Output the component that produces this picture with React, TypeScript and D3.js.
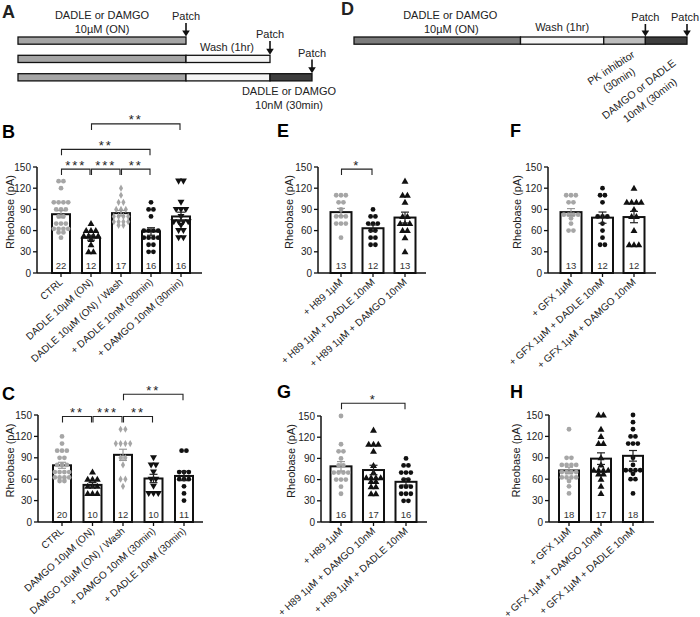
import React from 'react';
import * as d3 from 'd3';

const FONT = '"Liberation Sans", Arial, Helvetica, sans-serif';
const GRAY = '#a6a6a6';
const BLACK = '#111';

// ---------- Data ----------
const catsB = ['CTRL', 'DADLE 10µM (ON)', 'DADLE 10µM (ON) / Wash', '+ DADLE 10nM (30min)', '+ DAMGO 10nM (30min)'];
const valsB = [
  [130, 130, 120, 100, 100, 100, 100, 90, 90, 90, 80, 80, 70, 70, 70, 60, 60, 60, 60, 60, 60, 50],
  [70, 60, 60, 60, 50, 50, 50, 50, 50, 40, 30, 30],
  [120, 110, 100, 100, 90, 90, 90, 80, 80, 80, 80, 70, 70, 70, 70, 70, 70],
  [100, 90, 90, 80, 60, 60, 60, 60, 50, 50, 50, 50, 40, 40, 30, 30],
  [130, 130, 100, 90, 90, 90, 80, 70, 70, 70, 70, 70, 60, 60, 50, 50],
];
const sigB: [number, number, number, string][] = [
  [0, 1, 147, '***'], [1, 2, 147, '***'], [2, 3, 147, '**'], [0, 3, 175, '**'], [1, 4, 211, '**'],
];

const catsC = ['CTRL', 'DAMGO 10µM (ON)', 'DAMGO 10µM (ON) / Wash', '+ DAMGO 10nM (30min)', '+ DADLE 10nM (30min)'];
const valsC = [
  [120, 110, 100, 100, 100, 90, 90, 80, 80, 80, 70, 70, 70, 70, 60, 60, 60, 60, 60, 60],
  [70, 60, 60, 60, 50, 50, 50, 40, 40, 40],
  [130, 130, 110, 110, 110, 110, 90, 90, 80, 60, 60, 50],
  [90, 80, 80, 70, 60, 60, 50, 40, 40, 40],
  [100, 100, 70, 70, 70, 60, 60, 60, 50, 40, 30],
];
const sigC: [number, number, number, string][] = [
  [0, 1, 148, '**'], [1, 2, 148, '***'], [2, 3, 148, '**'], [2, 4, 179, '**'],
];

const catsE = ['+ H89 1µM', '+ H89 1µM + DADLE 10nM', '+ H89 1µM + DAMGO 10nM'];
const valsE = [
  [110, 110, 110, 100, 100, 90, 80, 80, 80, 70, 70, 70, 50],
  [90, 80, 80, 70, 70, 70, 60, 60, 50, 50, 40, 40],
  [130, 110, 110, 100, 80, 80, 70, 70, 70, 60, 60, 50, 30],
];
const sigE: [number, number, number, string][] = [[0, 1, 147, '*']];

const catsF = ['+ GFX 1µM', '+ GFX 1µM + DADLE 10nM', '+ GFX 1µM + DAMGO 10nM'];
const valsF = [
  [110, 110, 110, 100, 100, 80, 80, 80, 80, 80, 70, 60, 60],
  [120, 110, 110, 100, 80, 80, 80, 70, 60, 50, 40, 40],
  [120, 100, 100, 100, 100, 90, 80, 80, 60, 40, 40, 40],
];

const catsG = ['+ H89 1µM', '+ H89 1µM + DAMGO 10nM', '+ H89 1µM + DADLE 10nM'];
const valsG = [
  [150, 110, 100, 100, 90, 80, 80, 70, 70, 70, 70, 60, 60, 60, 50, 40],
  [130, 110, 110, 110, 100, 80, 70, 60, 60, 60, 60, 60, 60, 50, 50, 40, 40],
  [90, 80, 80, 70, 70, 70, 60, 60, 50, 50, 50, 40, 40, 40, 30, 30],
];
const sigG: [number, number, number, string][] = [[0, 2, 168, '*']];

const catsH = ['+ GFX 1µM', '+ GFX 1µM + DAMGO 10nM', '+ GFX 1µM + DADLE 10nM'];
const valsH = [
  [130, 90, 90, 80, 80, 80, 80, 70, 70, 70, 70, 60, 60, 60, 60, 60, 50, 40],
  [150, 150, 130, 120, 110, 110, 90, 80, 70, 70, 70, 70, 70, 70, 60, 50, 40],
  [150, 140, 130, 120, 120, 110, 110, 110, 90, 80, 70, 70, 70, 70, 70, 60, 60, 40],
];

const yTicks = [0, 30, 60, 90, 120, 150];

// timelines (time units)
const tlA_rows = [
  [{ s: 0, e: 12, k: 'drug' }],
  [{ s: 0, e: 12, k: 'drug' }, { s: 12, e: 18, k: 'wash' }],
  [{ s: 0, e: 12, k: 'drug' }, { s: 12, e: 18, k: 'wash' }, { s: 18, e: 21, k: 'low' }],
];
const tlD = [
  { s: 0, e: 12, k: 'drugD' }, { s: 12, e: 18, k: 'wash' }, { s: 18, e: 21, k: 'pk' }, { s: 21, e: 24, k: 'low' },
];

type Marker = 'circle' | 'tri' | 'tridown' | 'diamond';

const segFill: Record<string, string> = {
  drug: '#a5a5a5', drugD: '#7c7c7c', wash: '#f4f4f4', low: '#3e3e3e', pk: '#bdbdbd',
};

// ---------- Components ----------
function MarkerShape({ m, x, y, c }: { m: Marker; x: number; y: number; c: string }) {
  if (m === 'circle') return <circle cx={x} cy={y} r={2.4} fill={c} />;
  if (m === 'diamond') {
    const p = d3.symbol().type(d3.symbolDiamond).size(15)();
    return <path d={p || ''} transform={`translate(${x},${y})`} fill={c} />;
  }
  const p = d3.symbol().type(d3.symbolTriangle).size(21)();
  return <path d={p || ''} transform={`translate(${x},${y + (m === 'tri' ? 0.5 : -0.5)}) rotate(${m === 'tridown' ? 180 : 0})`} fill={c} />;
}

function layoutPoints(values: number[], cx: number, y: (v: number) => number) {
  const groups = d3.group(values, (v) => v);
  const pts: { x: number; y: number }[] = [];
  for (const [v, arr] of groups) {
    const k = arr.length;
    const perRow = 4;
    const rows = Math.ceil(k / perRow);
    for (let r = 0; r < rows; r++) {
      const m = Math.min(perRow, k - r * perRow);
      for (let j = 0; j < m; j++) {
        pts.push({ x: cx + (j - (m - 1) / 2) * 4.8, y: y(v) + (r - (rows - 1) / 2) * 3.6 });
      }
    }
  }
  return pts;
}

interface PanelCfg {
  letter: string; lx: number; ly: number;
  cats: string[]; vals: number[][]; markers: Marker[]; colors: string[];
  ax: number; x0: number; step: number; axEnd: number; yTop: number; yBot: number; barW: number;
  ylabX: number; angle: number; brackets: [number, number, number, string][];
}

function Panel(p: PanelCfg) {
  const y = d3.scaleLinear().domain([0, 150]).range([p.yBot, p.yTop]);
  const x = d3.scalePoint<string>().domain(p.cats).range([p.x0, p.x0 + p.step * (p.cats.length - 1)]);
  return (
    <g>
      <text x={p.lx} y={p.ly} fontSize={18} fontWeight="bold" fontFamily={FONT}>{p.letter}</text>
      {p.cats.map((c, i) => {
        const m = d3.mean(p.vals[i]) as number;
        const cx = x(c) as number;
        return <rect key={'b' + i} x={cx - p.barW / 2} y={y(m)} width={p.barW} height={p.yBot - y(m)} fill="#fff" stroke={BLACK} strokeWidth={2} />;
      })}
      {p.cats.map((c, i) => (
        <text key={'n' + i} x={x(c) as number} y={p.yBot - 4} fontSize={9.5} textAnchor="middle" fontFamily={FONT} fill="#333">{p.vals[i].length}</text>
      ))}
      {p.cats.map((c, i) => layoutPoints(p.vals[i], x(c) as number, y).map((pt, j) => (
        <MarkerShape key={`p${i}-${j}`} m={p.markers[i]} x={pt.x} y={pt.y} c={p.colors[i]} />
      )))}
      {p.cats.map((c, i) => {
        const v = p.vals[i];
        const m = d3.mean(v) as number;
        const sem = (d3.deviation(v) as number) / Math.sqrt(v.length);
        const cx = x(c) as number;
        const col = p.colors[i] === GRAY ? '#9a9a9a' : '#222';
        return (
          <g key={'e' + i} stroke={col} strokeWidth={1.2}>
            <line x1={cx} x2={cx} y1={y(m - sem)} y2={y(m + sem)} />
            <line x1={cx - 4} x2={cx + 4} y1={y(m + sem)} y2={y(m + sem)} />
            <line x1={cx - 4} x2={cx + 4} y1={y(m - sem)} y2={y(m - sem)} />
          </g>
        );
      })}
      <line x1={p.ax} x2={p.ax} y1={p.yBot} y2={p.yTop} stroke={BLACK} strokeWidth={1.5} />
      <line x1={p.ax} x2={p.axEnd} y1={p.yBot} y2={p.yBot} stroke={BLACK} strokeWidth={1.5} />
      {yTicks.map((t) => (
        <g key={'t' + t}>
          <line x1={p.ax - 4} x2={p.ax} y1={y(t)} y2={y(t)} stroke={BLACK} strokeWidth={1.3} />
          <text x={p.ax - 6} y={y(t) + 3.5} fontSize={10} textAnchor="end" fontFamily={FONT} fill="#222">{t}</text>
        </g>
      ))}
      {p.cats.map((c, i) => {
        const cx = x(c) as number;
        return (
          <g key={'x' + i}>
            <line x1={cx} x2={cx} y1={p.yBot} y2={p.yBot + 4} stroke={BLACK} strokeWidth={1.3} />
            <text transform={`translate(${cx + 2.5},${p.yBot + 10}) rotate(${-p.angle})`} fontSize={10} textAnchor="end" fontFamily={FONT} fill="#222">{c}</text>
          </g>
        );
      })}
      <text transform={`translate(${p.ylabX},${(p.yTop + p.yBot) / 2 - 8}) rotate(-90)`} fontSize={11} textAnchor="middle" fontFamily={FONT} fill="#222">Rheobase (pA)</text>
      {p.brackets.map(([a, b, lv, lab], i) => {
        const xa = (x(p.cats[a]) as number) + 0.5;
        const xb = (x(p.cats[b]) as number) - 1;
        const ly = y(lv);
        return (
          <g key={'s' + i}>
            <path d={`M${xa},${ly + 6}V${ly}H${xb}V${ly + 6}`} fill="none" stroke="#222" strokeWidth={1.1} />
            <text x={(xa + xb) / 2} y={ly + 0.5} fontSize={13} letterSpacing={2} textAnchor="middle" fontFamily={FONT} fill="#222">{lab}</text>
          </g>
        );
      })}
    </g>
  );
}

function Arrow({ x, y1, y2 }: { x: number; y1: number; y2: number }) {
  return (
    <g>
      <line x1={x} x2={x} y1={y1} y2={y2 - 5} stroke="#111" strokeWidth={1.6} />
      <path d={`M${x - 3.8},${y2 - 6}L${x + 3.8},${y2 - 6}L${x},${y2}Z`} fill="#111" />
    </g>
  );
}

function TimelineA() {
  const t = d3.scaleLinear().domain([0, 21]).range([18, 312]);
  const rowY = [37, 55.3, 73.7];
  const h = 7.2;
  return (
    <g fontFamily={FONT} fill="#222">
      <text x={2} y={18} fontSize={18} fontWeight="bold">A</text>
      {tlA_rows.map((row, r) => row.map((s, j) => (
        <rect key={`${r}-${j}`} x={t(s.s)} y={rowY[r]} width={t(s.e) - t(s.s)} height={h} fill={segFill[s.k]} stroke="#111" strokeWidth={1.3} />
      )))}
      <text x={t(6)} y={19} fontSize={11} textAnchor="middle">DADLE or DAMGO</text>
      <text x={t(6)} y={33} fontSize={11} textAnchor="middle">10µM (ON)</text>
      <text x={t(12)} y={20} fontSize={11} textAnchor="middle">Patch</text>
      <Arrow x={t(12)} y1={23} y2={rowY[0] - 0.5} />
      <text x={t(15) - 1} y={51} fontSize={11} textAnchor="middle">Wash (1hr)</text>
      <text x={t(18)} y={38} fontSize={11} textAnchor="middle">Patch</text>
      <Arrow x={t(18)} y1={41} y2={rowY[1] - 0.5} />
      <text x={t(21)} y={56.5} fontSize={11} textAnchor="middle">Patch</text>
      <Arrow x={t(21)} y1={59.5} y2={rowY[2] - 0.5} />
      <text x={t(19.5) - 2} y={95} fontSize={11} textAnchor="middle">DADLE or DAMGO</text>
      <text x={t(19.5) - 2} y={109} fontSize={11} textAnchor="middle">10nM (30min)</text>
    </g>
  );
}

function TimelineD() {
  const t = d3.scaleLinear().domain([0, 24]).range([354, 687]);
  const y0 = 37;
  const h = 7.2;
  return (
    <g fontFamily={FONT} fill="#222">
      <text x={341} y={15} fontSize={18} fontWeight="bold">D</text>
      {tlD.map((s, j) => (
        <rect key={j} x={t(s.s)} y={y0} width={t(s.e) - t(s.s)} height={h} fill={segFill[s.k]} stroke="#111" strokeWidth={1.3} />
      ))}
      <text x={t(6) + 13} y={19} fontSize={11} textAnchor="middle">DADLE or DAMGO</text>
      <text x={t(6) + 14} y={33} fontSize={11} textAnchor="middle">10µM (ON)</text>
      <text x={t(15)} y={31} fontSize={11} textAnchor="middle">Wash (1hr)</text>
      <text x={t(21)} y={21} fontSize={11} textAnchor="middle">Patch</text>
      <Arrow x={t(21)} y1={24} y2={y0 - 0.5} />
      <text x={t(24) - 2} y={21} fontSize={11} textAnchor="middle">Patch</text>
      <Arrow x={t(24)} y1={24} y2={y0 - 0.5} />
      <text transform={`translate(${613},${71}) rotate(-33)`} fontSize={10.5} textAnchor="middle">PK inhibitor</text>
      <text transform={`translate(${621},${83}) rotate(-33)`} fontSize={10.5} textAnchor="middle">(30min)</text>
      <text transform={`translate(${641},${92}) rotate(-38)`} fontSize={10.5} textAnchor="middle">DAMGO or DADLE</text>
      <text transform={`translate(${652},${103}) rotate(-38)`} fontSize={10.5} textAnchor="middle">10nM (30min)</text>
    </g>
  );
}

export default function App() {
  const panels: PanelCfg[] = [
    {
      letter: 'B', lx: 2, ly: 138, cats: catsB, vals: valsB,
      markers: ['circle', 'tri', 'diamond', 'circle', 'tridown'], colors: [GRAY, BLACK, GRAY, BLACK, BLACK],
      ax: 37, x0: 61, step: 30, axEnd: 202, yTop: 167, yBot: 273, barW: 18, ylabX: 14, angle: 42, brackets: sigB,
    },
    {
      letter: 'C', lx: 2, ly: 400, cats: catsC, vals: valsC,
      markers: ['circle', 'tri', 'diamond', 'tridown', 'circle'], colors: [GRAY, BLACK, GRAY, BLACK, BLACK],
      ax: 38, x0: 62, step: 30.5, axEnd: 203, yTop: 415, yBot: 522, barW: 18, ylabX: 14, angle: 42, brackets: sigC,
    },
    {
      letter: 'E', lx: 277, ly: 137, cats: catsE, vals: valsE,
      markers: ['circle', 'circle', 'tri'], colors: [GRAY, BLACK, BLACK],
      ax: 318, x0: 341, step: 32, axEnd: 426, yTop: 167, yBot: 273, barW: 21, ylabX: 293, angle: 42, brackets: sigE,
    },
    {
      letter: 'F', lx: 510, ly: 137, cats: catsF, vals: valsF,
      markers: ['circle', 'circle', 'tri'], colors: [GRAY, BLACK, BLACK],
      ax: 548, x0: 571, step: 31.5, axEnd: 656, yTop: 167, yBot: 273, barW: 21, ylabX: 521, angle: 42, brackets: [],
    },
    {
      letter: 'G', lx: 277, ly: 398, cats: catsG, vals: valsG,
      markers: ['circle', 'tri', 'circle'], colors: [GRAY, BLACK, BLACK],
      ax: 321, x0: 341, step: 32.5, axEnd: 427, yTop: 416, yBot: 522, barW: 21, ylabX: 295, angle: 42, brackets: sigG,
    },
    {
      letter: 'H', lx: 510, ly: 398, cats: catsH, vals: valsH,
      markers: ['circle', 'tri', 'circle'], colors: [GRAY, BLACK, BLACK],
      ax: 549, x0: 569, step: 32, axEnd: 654, yTop: 415, yBot: 522, barW: 20, ylabX: 520, angle: 42, brackets: [],
    },
  ];
  return (
    <svg width={700} height={617} style={{ position: 'absolute', left: 0, top: 0, background: '#fff' }} fontFamily={FONT}>
      <rect x={0} y={0} width={700} height={617} fill="#fff" />
      <TimelineA />
      <TimelineD />
      {panels.map((p) => <Panel key={p.letter} {...p} />)}
    </svg>
  );
}
